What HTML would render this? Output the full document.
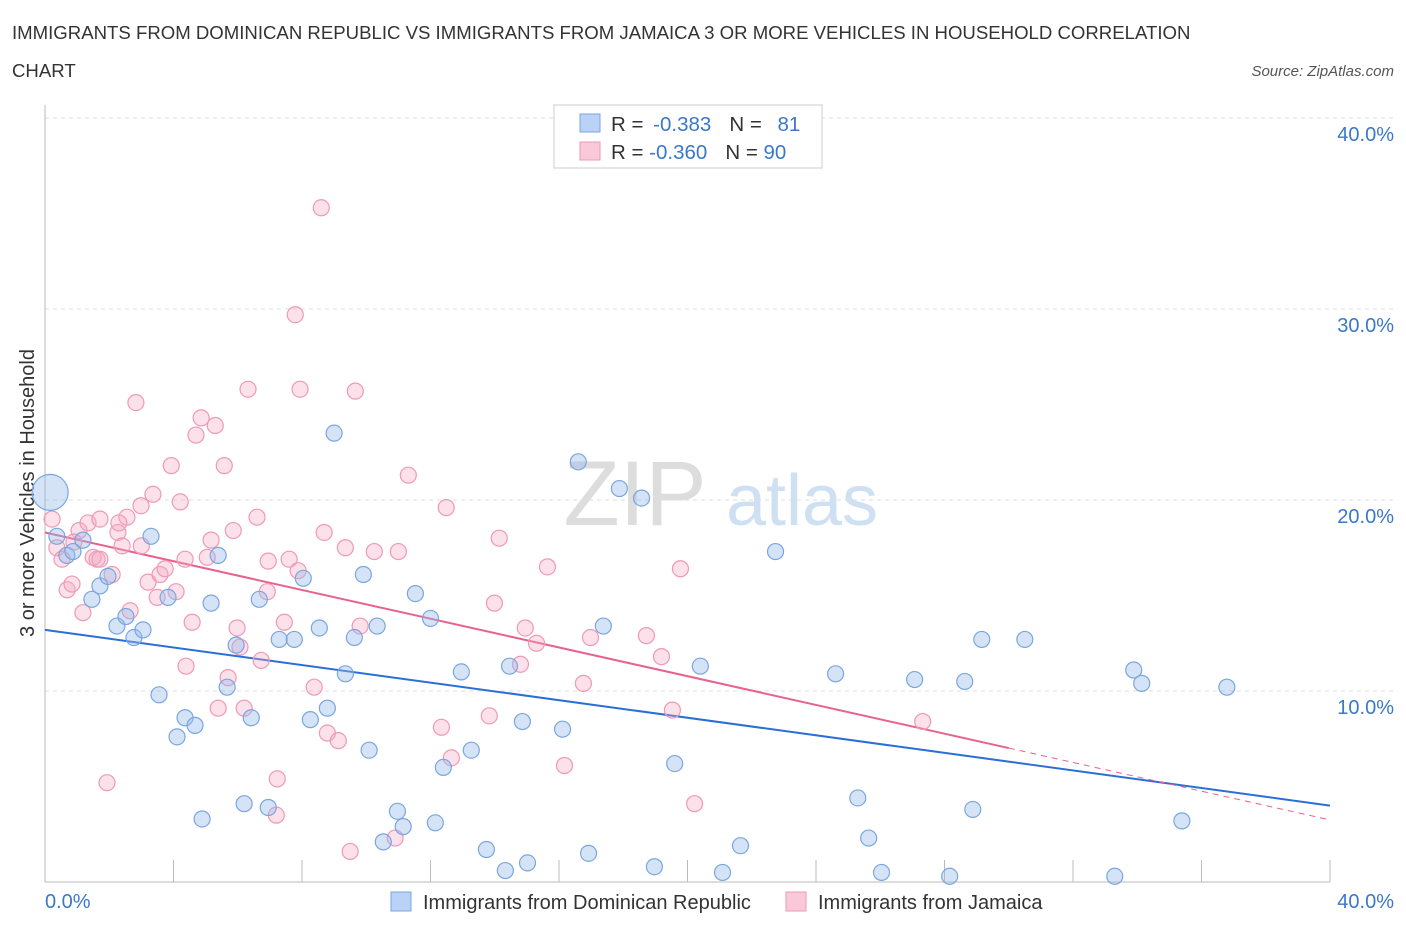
<!DOCTYPE html>
<html><head><meta charset="utf-8"><style>
body{margin:0;background:#fff;font-family:"Liberation Sans",sans-serif;}
svg text{font-family:"Liberation Sans",sans-serif;}
</style></head><body>
<svg id="chart" width="1406" height="930">
<text x="12" y="39" font-size="18.6" fill="#333">IMMIGRANTS FROM DOMINICAN REPUBLIC VS IMMIGRANTS FROM JAMAICA 3 OR MORE VEHICLES IN HOUSEHOLD CORRELATION</text>
<text x="12" y="77" font-size="18.6" fill="#333">CHART</text>
<text x="1394" y="76" font-size="15" fill="#555" font-style="italic" text-anchor="end">Source: ZipAtlas.com</text>
<text x="635" y="525" font-size="92" fill="#ddd" font-family="Liberation Serif" text-anchor="middle">ZIP</text>
<text x="802" y="525" font-size="72" fill="#cfe0f3" text-anchor="middle">atlas</text>
<text transform="translate(34,493) rotate(-90)" font-size="20" fill="#333" text-anchor="middle">3 or more Vehicles in Household</text>
<g id="grid"></g><g id="ticks"></g><g id="trends"></g><g id="pts"></g>
<g>
<rect x="554" y="105" width="268" height="63" fill="#fff" stroke="#ccc"/>
<rect x="580" y="114" width="20" height="18" fill="#b9d2f5" stroke="#7aa6e0"/>
<rect x="580" y="142" width="20" height="18" fill="#f9c9d9" stroke="#ee9ab5"/>
<text x="611" y="131" font-size="20.5" fill="#333">R = <tspan dx="4" fill="#3a78c9">-0.383</tspan><tspan dx="18">N = </tspan><tspan dx="10" fill="#3a78c9">81</tspan></text>
<text x="611" y="159" font-size="20.5" fill="#333">R = <tspan fill="#3a78c9">-0.360</tspan><tspan dx="18">N = </tspan><tspan fill="#3a78c9">90</tspan></text>
</g>
<g>
<rect x="391" y="892" width="20" height="19" fill="#b9d2f5" stroke="#7aa6e0"/>
<text x="423" y="909" font-size="20" fill="#333">Immigrants from Dominican Republic</text>
<rect x="786" y="892" width="20" height="19" fill="#f9c9d9" stroke="#ee9ab5"/>
<text x="818" y="909" font-size="20" fill="#333">Immigrants from Jamaica</text>
</g>
</svg>
<script>
const blueX=[0.16,0.37,0.68,0.87,1.18,1.46,1.71,1.96,2.24,2.52,2.77,3.05,3.30,3.55,3.83,4.11,4.36,4.67,4.89,5.17,5.39,5.67,5.95,6.20,6.42,6.67,6.95,7.29,7.76,8.04,8.26,8.54,8.79,9.00,9.35,9.63,9.91,10.09,10.34,10.53,10.97,11.15,11.53,12.0,12.15,12.40,12.96,13.27,13.74,14.33,14.46,15.02,14.86,16.11,16.60,16.92,17.38,17.88,18.57,18.97,19.60,20.40,21.09,21.65,22.74,24.61,25.30,25.64,26.04,27.07,28.16,28.63,28.88,29.16,30.50,33.30,33.89,34.14,35.39,36.79];
const blueY=[20.4,18.1,17.1,17.3,17.9,14.8,15.5,16.0,13.4,13.9,12.8,13.2,18.1,9.8,14.9,7.6,8.6,8.2,3.3,14.6,17.1,10.2,12.4,4.1,8.6,14.8,3.9,12.7,12.7,15.9,8.5,13.3,9.1,23.5,10.9,12.8,16.1,6.9,13.4,2.1,3.7,2.9,15.1,13.8,3.1,6.0,11.0,6.9,1.7,0.6,11.3,1.0,8.4,8.0,22.0,1.5,13.4,20.6,20.1,0.8,6.2,11.3,0.5,1.9,17.3,10.9,4.4,2.3,0.5,10.6,0.3,10.5,3.8,12.7,12.7,0.3,11.1,10.4,3.2,10.2];
const pinkX=[0.22,0.37,0.53,0.69,0.84,1.06,1.18,1.34,1.50,1.62,1.71,1.93,2.09,2.27,2.40,2.55,2.65,2.83,2.99,3.21,3.36,3.49,3.58,3.74,3.93,4.08,4.21,4.36,4.39,4.58,4.70,4.86,5.05,5.17,5.30,5.39,5.58,5.70,5.86,5.98,6.07,6.20,6.32,6.60,6.73,6.92,6.95,7.20,7.23,7.45,7.60,7.79,7.88,7.94,8.38,8.60,8.69,8.79,9.13,9.35,9.50,9.66,9.81,10.25,10.90,11.0,11.31,12.34,12.49,12.65,13.83,13.99,14.14,14.80,14.95,15.30,15.64,16.17,16.76,16.98,18.72,19.19,19.53,19.78,20.22,27.32,1.71,0.9,2.3,3.0];
const pinkY=[19.0,17.5,16.9,15.3,15.6,18.4,14.1,18.8,17.0,16.9,19.0,5.2,16.1,18.3,17.6,19.1,14.2,25.1,19.7,15.7,20.3,14.9,16.1,16.4,21.8,15.2,19.9,16.9,11.3,13.6,23.4,24.3,17.0,17.9,23.9,9.1,21.8,10.7,18.4,13.3,12.3,9.1,25.8,19.1,11.6,15.2,16.8,3.5,5.4,13.6,16.9,29.7,16.3,25.8,10.2,35.3,18.3,7.8,7.4,17.5,1.6,25.7,13.4,17.3,2.3,17.3,21.3,8.1,19.6,6.5,8.7,14.6,18.0,11.4,13.3,12.5,16.5,6.1,10.4,12.8,12.9,11.8,9.0,16.4,4.1,8.4,16.9,17.8,18.8,17.6];
const yTicks=[10,20,30,40];
const yTickLabels=["10.0%","20.0%","30.0%","40.0%"];
const blueTrend=[13.2,4.0];
const pinkTrend=[18.3,3.25];
const pinkSolidEnd=30;
const NS="http://www.w3.org/2000/svg";
const X0=45,X1=1330,Y0=882,Y1=118;
const sx=v=>X0+(X1-X0)*v/40, sy=v=>Y0-(Y0-Y1)*v/40;
function mk(tag,attrs,parent){const e=document.createElementNS(NS,tag);for(const k in attrs)e.setAttribute(k,attrs[k]);parent.appendChild(e);return e;}
const grid=document.getElementById('grid'),ticks=document.getElementById('ticks'),tr=document.getElementById('trends'),pts=document.getElementById('pts');
yTicks.forEach((t,i)=>{
 const l=mk('line',{x1:X0,x2:1395,y1:sy(t),y2:sy(t),stroke:'#ddd','stroke-dasharray':'4,4'},grid);
 
 
 const tx=mk('text',{x:1394,y:sy(t)+23,'font-size':20,fill:'#3a78c9','text-anchor':'end'},ticks);
 tx.textContent=yTickLabels[i];
 
 
});
const ya=mk('line',{x1:X0,x2:X0,y1:105,y2:Y0,stroke:'#bbb'},grid);


const xa=mk('line',{x1:X0,x2:X1,y1:Y0,y2:Y0,stroke:'#bbb'},grid);


for(let i=0;i<=10;i++){const v=i*4;const t=mk('line',{x1:sx(v),x2:sx(v),y1:Y0-22,y2:Y0,stroke:'#bbb'},ticks);
 
 }
const xl=mk('text',{x:45,y:908,'font-size':20,fill:'#3a78c9'},ticks);xl.textContent='0.0%';


const xr=mk('text',{x:1394,y:908,'font-size':20,fill:'#3a78c9','text-anchor':'end'},ticks);xr.textContent='40.0%';


const bl=mk('line',{x1:sx(0),y1:sy(blueTrend[0]),x2:sx(40),y2:sy(blueTrend[1]),stroke:'#2a6fd6','stroke-width':2},tr);


const pAt=v=>pinkTrend[0]+(pinkTrend[1]-pinkTrend[0])*v/40;
const pl=mk('line',{x1:sx(0),y1:sy(pinkTrend[0]),x2:sx(pinkSolidEnd),y2:sy(pAt(pinkSolidEnd)),stroke:'#e8628f','stroke-width':2},tr);


const pd=mk('line',{x1:sx(pinkSolidEnd),y1:sy(pAt(pinkSolidEnd)),x2:sx(40),y2:sy(pinkTrend[1]),stroke:'#e8628f','stroke-width':1,'stroke-dasharray':'6,5'},tr);


pinkX.forEach((x,i)=>{const c=mk('circle',{cx:sx(x),cy:sy(pinkY[i]),r:8,fill:'rgba(245,170,195,0.35)',stroke:'#ee9ab5','stroke-width':1.2},pts);
 
 });
blueX.forEach((x,i)=>{const c=mk('circle',{cx:sx(x),cy:sy(blueY[i]),r:i===0?18:8,fill:'rgba(150,185,235,0.4)',stroke:'#7aa6e0','stroke-width':1.2},pts);
 
 });
</script>
</body></html>
